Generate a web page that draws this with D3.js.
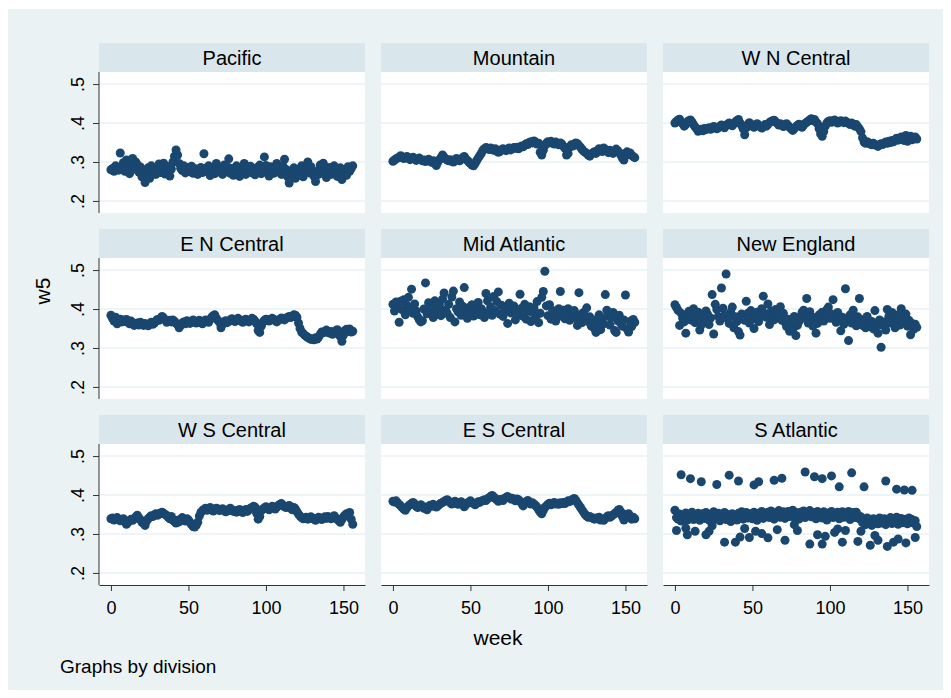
<!DOCTYPE html>
<html><head><meta charset="utf-8">
<script src="https://cdn.jsdelivr.net/npm/d3@7"></script>
<style>body{margin:0;background:#fff}svg{display:block}text{font-family:"Liberation Sans",Arial,sans-serif}</style>
</head><body>
<svg id="c" width="951" height="698"></svg>
<script>
const divisions = ["Pacific","Mountain","W N Central","E N Central","Mid Atlantic","New England","W S Central","E S Central","S Atlantic"];
const weeks = d3.range(0, 157);
const yTicks = [.2, .3, .4, .5];
const xTicks = [0, 50, 100, 150];

const pacific = [
.280,.283,.276,.290,.286,.279,.323,.284,.298,.276,
.305,.288,.270,.296,.309,.282,.300,.293,.274,.287,
.262,.279,.247,.271,.285,.258,.290,.284,.276,.268,
.281,.295,.273,.287,.297,.269,.279,.288,.264,.282,
.300,.315,.331,.318,.296,.284,.278,.290,.272,.286,
.280,.275,.289,.271,.283,.277,.268,.279,.286,.273,
.321,.284,.276,.290,.265,.279,.282,.270,.296,.287,
.278,.284,.268,.292,.275,.288,.308,.271,.283,.266,
.279,.290,.274,.263,.286,.277,.296,.268,.283,.275,
.289,.272,.281,.267,.285,.278,.292,.270,.284,.313,
.291,.276,.264,.288,.279,.271,.286,.296,.275,.283,
.268,.290,.307,.281,.262,.246,.276,.270,.285,.258,
.281,.273,.266,.290,.262,.279,.284,.300,.272,.288,
.270,.263,.250,.276,.268,.292,.281,.297,.272,.260,
.279,.286,.268,.274,.290,.282,.263,.277,.285,.255,
.272,.281,.266,.288,.276,.283,.290];

const mountain = [
.302,.305,.308,.310,.312,.316,.313,.309,.311,.314,
.310,.306,.309,.312,.308,.304,.307,.310,.306,.303,
.305,.301,.304,.307,.302,.299,.303,.296,.291,.300,
.306,.311,.318,.312,.308,.305,.303,.306,.302,.300,
.304,.309,.306,.303,.307,.311,.314,.308,.304,.300,
.296,.292,.290,.296,.303,.310,.316,.322,.330,.334,
.337,.335,.332,.336,.333,.330,.334,.328,.325,.327,
.331,.334,.332,.329,.333,.336,.331,.334,.337,.335,
.338,.334,.337,.341,.339,.343,.347,.345,.350,.352,
.349,.354,.351,.346,.348,.325,.318,.330,.342,.348,
.352,.349,.353,.350,.346,.351,.348,.344,.349,.346,
.340,.335,.318,.322,.338,.344,.341,.346,.349,.347,
.342,.338,.332,.328,.325,.322,.318,.315,.320,.324,
.326,.322,.329,.334,.331,.327,.336,.332,.328,.324,
.330,.327,.322,.326,.333,.329,.324,.318,.310,.305,
.322,.326,.319,.323,.317,.314,.311];

const wnCentral = [
.400,.404,.408,.410,.402,.398,.392,.396,.403,.406,
.408,.403,.396,.390,.385,.379,.382,.384,.380,.386,
.383,.386,.388,.384,.387,.391,.389,.385,.388,.392,
.395,.391,.388,.394,.397,.400,.396,.393,.398,.403,
.406,.409,.400,.394,.385,.370,.388,.396,.401,.397,
.392,.389,.395,.398,.394,.390,.387,.391,.396,.392,
.397,.401,.404,.406,.407,.403,.399,.395,.398,.394,
.391,.395,.398,.393,.389,.385,.381,.386,.390,.394,
.397,.393,.389,.395,.399,.402,.405,.408,.411,.406,
.409,.403,.398,.385,.372,.366,.378,.392,.400,.404,
.406,.402,.405,.408,.404,.400,.403,.406,.404,.401,
.405,.402,.399,.396,.400,.397,.392,.396,.390,.385,
.378,.362,.351,.348,.352,.349,.346,.344,.348,.345,
.342,.340,.344,.347,.345,.349,.351,.348,.353,.350,
.355,.352,.357,.361,.356,.359,.364,.361,.355,.368,
.353,.362,.366,.357,.360,.364,.359];

const enCentral = [
.384,.376,.369,.379,.362,.370,.374,.367,.372,.368,
.373,.366,.362,.369,.364,.358,.361,.364,.359,.366,
.362,.358,.363,.360,.357,.362,.366,.361,.364,.369,
.373,.371,.376,.381,.377,.372,.366,.369,.371,.367,
.372,.368,.363,.360,.352,.358,.364,.367,.362,.370,
.366,.363,.368,.372,.369,.364,.367,.371,.365,.362,
.368,.372,.369,.366,.373,.379,.383,.385,.376,.371,
.366,.352,.361,.367,.370,.365,.368,.372,.375,.371,
.368,.373,.376,.372,.369,.366,.371,.374,.370,.367,
.372,.376,.374,.369,.362,.345,.340,.356,.366,.371,
.374,.372,.369,.373,.376,.374,.370,.367,.371,.374,
.377,.375,.372,.376,.379,.381,.378,.382,.385,.384,
.379,.364,.350,.341,.337,.333,.330,.327,.325,.322,
.324,.321,.326,.323,.328,.335,.341,.339,.343,.346,
.340,.338,.342,.335,.338,.344,.347,.340,.329,.317,
.333,.345,.348,.343,.349,.341,.343];

const midAtlantic = [
.412,.395,.418,.403,.366,.420,.398,.424,.385,.409,
.430,.402,.451,.389,.413,.395,.380,.372,.367,.370,
.400,.467,.388,.416,.392,.405,.378,.421,.386,.398,
.410,.383,.425,.441,.397,.389,.412,.378,.431,.446,
.367,.401,.393,.418,.384,.407,.455,.392,.376,.404,
.388,.411,.382,.399,.392,.417,.385,.401,.394,.378,
.440,.421,.391,.405,.384,.432,.396,.419,.444,.387,
.410,.381,.402,.394,.363,.415,.390,.399,.408,.372,
.396,.385,.438,.402,.381,.412,.374,.395,.406,.368,
.391,.403,.378,.419,.365,.389,.430,.445,.497,.408,
.383,.411,.374,.396,.392,.369,.379,.401,.445,.386,
.397,.375,.388,.401,.371,.393,.382,.396,.376,.358,
.442,.385,.365,.391,.374,.403,.368,.380,.356,.372,
.350,.340,.366,.385,.347,.377,.362,.437,.397,.381,
.359,.378,.391,.345,.340,.370,.384,.363,.356,.372,
.436,.349,.341,.368,.355,.373,.366];

const newEngland = [
.411,.404,.397,.358,.389,.376,.367,.338,.381,.394,
.372,.386,.401,.365,.378,.392,.346,.359,.383,.370,
.395,.387,.360,.377,.437,.336,.412,.399,.381,.369,
.454,.402,.384,.490,.375,.363,.391,.405,.352,.380,
.368,.342,.333,.387,.378,.371,.420,.389,.364,.396,
.374,.350,.383,.392,.368,.381,.401,.433,.388,.379,
.413,.360,.394,.385,.372,.399,.384,.392,.406,.371,
.389,.366,.355,.374,.343,.362,.348,.381,.332,.358,
.368,.379,.391,.397,.376,.427,.364,.393,.381,.356,
.372,.338,.363,.385,.377,.392,.369,.384,.398,.405,
.376,.387,.424,.381,.366,.391,.372,.344,.379,.361,
.452,.375,.319,.385,.364,.397,.370,.357,.380,.427,
.373,.358,.366,.352,.381,.362,.355,.368,.349,.396,
.357,.338,.372,.302,.359,.367,.346,.399,.381,.364,
.391,.375,.352,.369,.385,.359,.401,.366,.374,.387,
.356,.371,.334,.363,.348,.361,.353];

const wsCentral = [
.339,.341,.336,.338,.342,.337,.334,.336,.339,.331,
.325,.330,.334,.338,.335,.339,.344,.348,.341,.337,
.330,.328,.322,.333,.339,.343,.347,.345,.349,.352,
.348,.351,.354,.356,.353,.350,.347,.343,.339,.345,
.336,.332,.328,.335,.331,.338,.342,.337,.333,.339,
.336,.330,.324,.319,.318,.322,.330,.346,.355,.360,
.363,.366,.361,.365,.368,.363,.359,.362,.366,.364,
.360,.362,.365,.361,.357,.359,.363,.366,.361,.358,
.360,.356,.359,.363,.358,.355,.360,.363,.358,.362,
.366,.368,.371,.369,.353,.338,.345,.360,.364,.367,
.370,.366,.362,.367,.371,.368,.364,.369,.373,.376,
.378,.374,.370,.368,.371,.373,.366,.362,.368,.364,
.357,.351,.346,.342,.339,.341,.343,.338,.340,.344,
.341,.338,.335,.339,.343,.340,.337,.341,.344,.340,
.345,.342,.339,.343,.347,.341,.338,.334,.330,.337,
.344,.348,.352,.346,.355,.338,.325];

const esCentral = [
.384,.382,.385,.380,.376,.372,.368,.364,.361,.367,
.372,.375,.378,.381,.377,.371,.368,.372,.375,.370,
.366,.369,.362,.370,.374,.371,.376,.373,.369,.372,
.376,.379,.381,.383,.386,.388,.384,.380,.377,.381,
.384,.380,.376,.379,.383,.378,.370,.375,.379,.382,
.385,.381,.378,.375,.379,.383,.381,.384,.386,.388,
.386,.390,.393,.396,.399,.395,.391,.388,.384,.387,
.389,.386,.391,.394,.396,.393,.390,.392,.388,.385,
.390,.388,.384,.379,.372,.378,.383,.386,.381,.377,
.380,.377,.373,.369,.362,.356,.352,.360,.368,.372,
.376,.379,.375,.378,.381,.377,.379,.376,.380,.378,
.381,.378,.382,.385,.383,.386,.389,.391,.386,.380,
.374,.368,.362,.356,.350,.346,.343,.345,.342,.340,
.338,.341,.339,.343,.336,.338,.335,.340,.344,.347,
.343,.346,.349,.352,.355,.360,.363,.357,.345,.336,
.350,.348,.352,.346,.338,.343,.339];

const sAtlantic = [
.361,.342,.338,.351,.333,.347,.339,.354,.336,.348,
.344,.356,.337,.349,.341,.353,.335,.347,.352,.340,
.355,.343,.336,.350,.345,.357,.338,.346,.353,.334,
.349,.341,.355,.337,.350,.344,.332,.352,.339,.346,
.336,.353,.342,.357,.338,.349,.355,.341,.352,.345,
.339,.356,.347,.335,.353,.344,.358,.340,.351,.347,
.356,.342,.359,.348,.338,.354,.346,.360,.343,.351,
.357,.340,.352,.358,.345,.349,.361,.343,.355,.350,
.338,.356,.347,.359,.342,.353,.348,.360,.344,.351,
.355,.339,.358,.346,.352,.341,.357,.349,.336,.354,
.347,.358,.342,.352,.345,.356,.339,.350,.357,.343,
.353,.346,.358,.337,.350,.355,.342,.356,.348,.339,
.344,.329,.338,.324,.341,.332,.336,.322,.339,.330,
.335,.326,.341,.328,.333,.339,.324,.336,.330,.342,
.327,.338,.331,.343,.325,.336,.340,.329,.334,.338,
.326,.341,.332,.337,.328,.334,.319];

const saUpperWeek = [4,10,17,27,35,41,51,54,64,69,84,90,95,101,106,114,122,136,143,148,153];
const saUpperW5   = [.452,.442,.434,.427,.451,.436,.426,.434,.438,.443,.459,.447,.442,.449,.421,.457,.421,.436,.415,.413,.412];
const saLowerWeek = [1,7,8,13,20,22,24,32,39,42,45,48,52,56,60,66,71,77,79,87,92,95,97,103,105,108,110,118,120,126,129,131,137,141,144,149,155];
const saLowerW5   = [.309,.315,.298,.307,.298,.307,.321,.279,.279,.292,.314,.291,.307,.301,.290,.311,.284,.324,.309,.274,.298,.274,.294,.304,.313,.279,.309,.281,.307,.271,.296,.284,.268,.279,.287,.277,.291];

const seriesList = [pacific, mountain, wnCentral, enCentral, midAtlantic, newEngland, wsCentral, esCentral, sAtlantic];

const svg = d3.select("#c");
svg.append("rect").attr("x", 8).attr("y", 9).attr("width", 935).attr("height", 681).attr("fill", "#eaf2f3");

const colX = [99, 381, 663], PW = 266, rowTop = [43, 229, 415], SH = 29, PH = 141;
const navy = "#1a476f";
const FONT = '"Liberation Sans", Arial, sans-serif';

divisions.forEach((name, i) => {
  const r = Math.floor(i / 3), c = i % 3;
  const x0 = colX[c], st = rowTop[r], pt = st + SH, pb = pt + PH;
  const x = d3.scaleLinear().domain([-7.7, 163.9]).range([x0, x0 + PW]);
  const y = d3.scaleLinear().domain([.169, .531]).range([pb, pt]);
  const g = svg.append("g");
  g.append("rect").attr("x", x0).attr("y", st).attr("width", PW).attr("height", SH).attr("fill", "#d9e6eb");
  g.append("text").attr("x", x0 + PW / 2).attr("y", st + SH / 2 + 7).attr("text-anchor", "middle")
    .attr("font-size", 20).attr("fill", "#000").text(name);
  g.append("rect").attr("x", x0).attr("y", pt).attr("width", PW).attr("height", PH).attr("fill", "#fff");
  g.selectAll("line.grid").data(yTicks).enter().append("line")
    .attr("x1", x0).attr("x2", x0 + PW).attr("y1", d => y(d)).attr("y2", d => y(d))
    .attr("stroke", "#eaf2f3").attr("stroke-width", 1.5);
  const pts = weeks.map((w, k) => ({ w: w, v: seriesList[i][k] }));
  if (name === "S Atlantic") {
    saUpperWeek.forEach((w, k) => pts.push({ w: w, v: saUpperW5[k] }));
    saLowerWeek.forEach((w, k) => pts.push({ w: w, v: saLowerW5[k] }));
  }
  g.selectAll("circle").data(pts).enter().append("circle")
    .attr("cx", d => x(d.w)).attr("cy", d => y(d.v)).attr("r", 4.5).attr("fill", navy);
  if (c === 0) {
    const ya = g.append("g").attr("transform", `translate(${x0},0)`)
      .call(d3.axisLeft(y).tickValues(yTicks).tickSize(6).tickSizeOuter(0).tickFormat(d => String(d).replace(/^0/, "")));
    ya.select(".domain").attr("stroke", "#333").attr("d", `M0,${pt}V${pb}`);
    ya.selectAll(".tick line").attr("stroke", "#333");
    ya.selectAll(".tick text").attr("x", null).attr("dy", null).attr("text-anchor", "middle")
      .attr("transform", "translate(-15,0) rotate(-90)").attr("font-size", 18).attr("fill", "#000")
      .style("font-family", FONT);
  }
  if (r === 2) {
    const xa = g.append("g").attr("transform", `translate(0,${pb})`)
      .call(d3.axisBottom(x).tickValues(xTicks).tickSize(6).tickSizeOuter(0));
    xa.select(".domain").attr("stroke", "#333");
    xa.selectAll(".tick line").attr("stroke", "#333");
    xa.selectAll(".tick text").attr("dy", null).attr("y", 29).attr("font-size", 18).attr("fill", "#000")
      .style("font-family", FONT);
  }
});

svg.append("text").attr("x", 498).attr("y", 645).attr("text-anchor", "middle").attr("font-size", 21).text("week");
svg.append("text").attr("transform", "translate(50,291) rotate(-90)").attr("text-anchor", "middle").attr("font-size", 21).text("w5");
svg.append("text").attr("x", 60).attr("y", 673).attr("font-size", 19).text("Graphs by division");
</script>
</body></html>
